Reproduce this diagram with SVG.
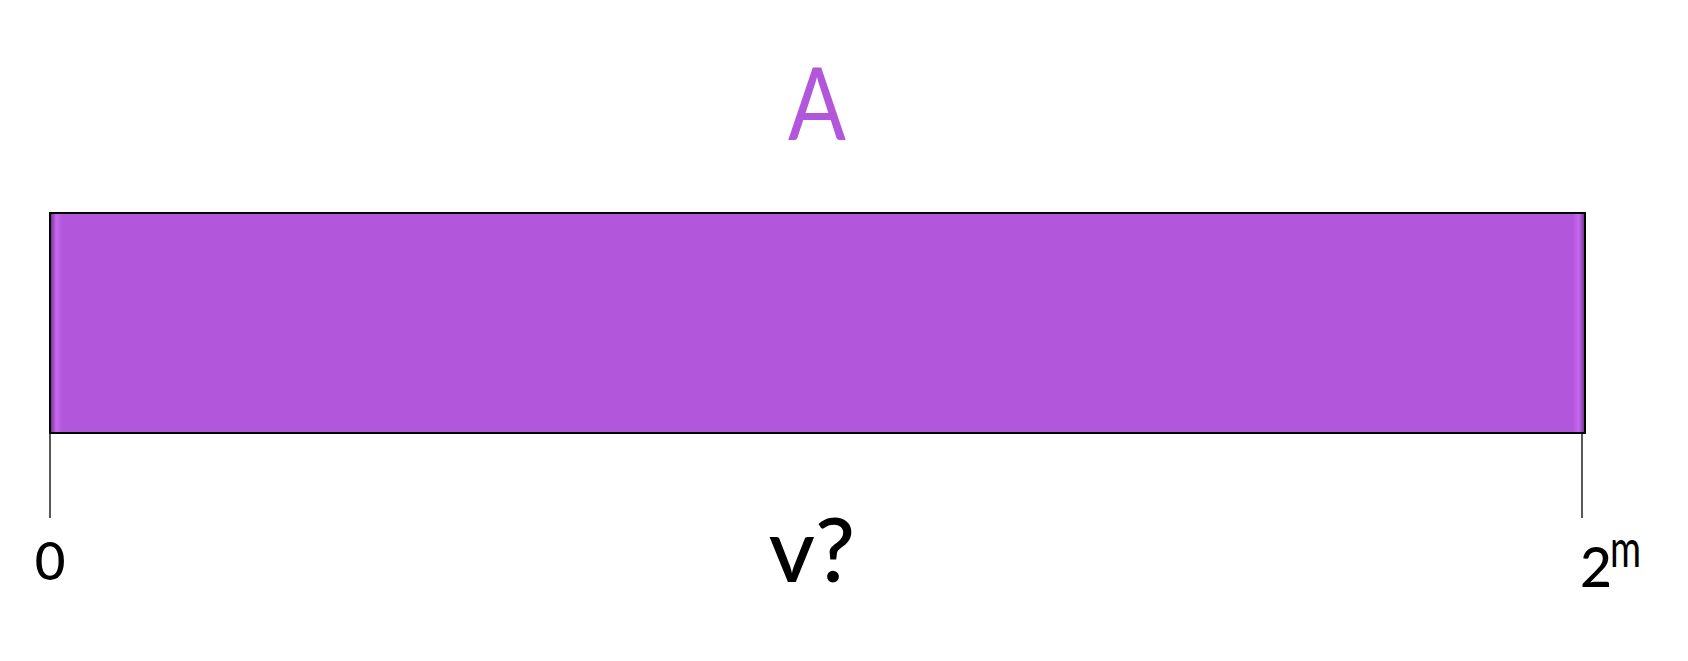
<svg xmlns="http://www.w3.org/2000/svg" width="1688" height="661" viewBox="0 0 1688 661">
<style>
.t{font-family:Lato,"Open Sans","DejaVu Sans",sans-serif;fill:#000}
.tick{stroke:#000;stroke-width:1.3}
</style>
<defs>
<linearGradient id="edge" x1="0" y1="0" x2="1" y2="0">
<stop offset="0" stop-color="#6a2d86"/>
<stop offset="0.004" stop-color="#c868f0"/>
<stop offset="0.008" stop-color="#b257db"/>
<stop offset="0.992" stop-color="#b257db"/>
<stop offset="0.996" stop-color="#c868f0"/>
<stop offset="1" stop-color="#6a2d86"/>
</linearGradient>
</defs>
<rect width="1688" height="661" fill="#fff"/>
<g id="label-A"><text class="t" x="817" y="140" font-size="100" text-anchor="middle" style="fill:#b257db" textLength="58" lengthAdjust="spacingAndGlyphs">A</text></g>
<g id="bar"><rect x="50" y="213" width="1535" height="220" fill="url(#edge)" stroke="#000" stroke-width="2"/></g>
<g id="connectors">
<line class="tick" x1="50" y1="433" x2="50" y2="518"/>
<line class="tick" x1="1582" y1="433" x2="1582" y2="518"/>
</g>
<g id="label-0"><text class="t" x="50" y="580" font-size="53" text-anchor="middle" style="font-weight:500">0</text></g>
<g id="label-v"><text class="t" x="812" y="582" font-size="89" text-anchor="middle" style="font-weight:500">v?</text></g>
<g id="label-2m"><text class="t" x="1580" y="587" font-size="55" style="font-weight:500">2</text><text class="t" x="1610" y="567" font-size="52" textLength="31" lengthAdjust="spacingAndGlyphs">m</text></g>
</svg>
